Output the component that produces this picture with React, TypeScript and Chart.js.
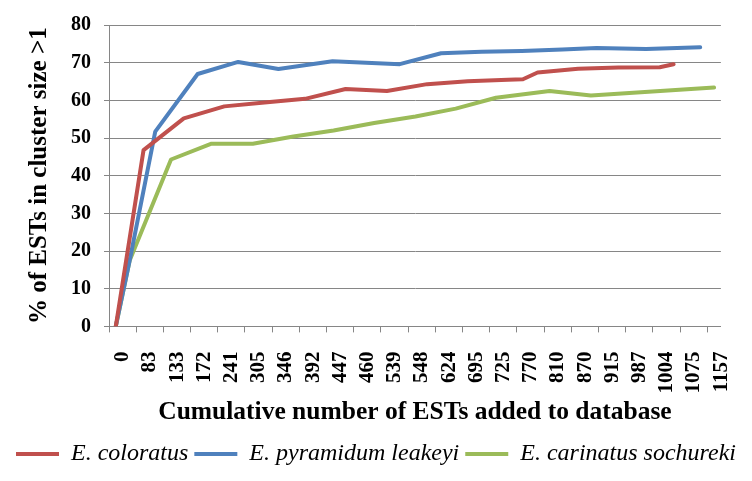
import { useEffect, useRef } from "react"
import { Chart, registerables, type ChartConfiguration } from "chart.js"

Chart.register(...registerables)

// category labels (cumulative number of ESTs)
const xLabels = [
  "0", "83", "133", "172", "241", "305", "346", "392", "447", "460", "539", "548",
  "624", "695", "725", "770", "810", "870", "915", "987", "1004", "1075", "1157",
]

// x positions are in category-index units
const redX = [-0.25, 0.77, 2.25, 3.74, 5.22, 6.71, 8.2, 9.72, 11.2, 12.69, 14.17, 14.72, 15.26, 16.75, 18.23, 19.75, 20.26]
const redY = [0, 46.8, 55.2, 58.4, 59.4, 60.4, 63.0, 62.5, 64.3, 65.1, 65.5, 65.6, 67.4, 68.4, 68.7, 68.8, 69.6]

const blueX = [-0.25, 0.26, 1.2, 2.76, 4.25, 5.73, 7.72, 10.19, 11.71, 13.2, 14.68, 16.17, 17.43, 19.25, 21.24]
const blueY = [0, 17.5, 51.7, 67.0, 70.2, 68.3, 70.4, 69.6, 72.5, 72.9, 73.1, 73.5, 73.9, 73.6, 74.1]

const greenX = [-0.25, 0.26, 1.78, 3.27, 4.79, 6.28, 7.76, 9.25, 10.77, 12.25, 13.73, 15.7, 17.22, 21.75]
const greenY = [0, 17.5, 44.3, 48.5, 48.5, 50.4, 52.0, 54.0, 55.7, 57.8, 60.7, 62.5, 61.3, 63.4]

const seriesNames = ["E. coloratus", "E. pyramidum leakeyi", "E. carinatus sochureki"]
const seriesColors = ["#C0504D", "#4F81BD", "#9BBB59"]

const yTicks = [0, 10, 20, 30, 40, 50, 60, 70, 80]

const zip = (xs: number[], ys: number[]) => xs.map((x, i) => ({ x, y: ys[i] }))

export default function App() {
  const chartRef = useRef<HTMLCanvasElement>(null)
  const chartInstance = useRef<Chart | null>(null)

  useEffect(() => {
    document.body.style.margin = "0"
    if (!chartRef.current) return
    if (chartInstance.current) chartInstance.current.destroy()
    const ctx = chartRef.current.getContext("2d")
    if (!ctx) return

    Chart.defaults.font.family = "'Liberation Serif', 'Times New Roman', serif"
    Chart.defaults.color = "#000"

    const grey = "#868686"
    const series = [zip(redX, redY), zip(blueX, blueY), zip(greenX, greenY)]

    const config: ChartConfiguration<"line"> = {
      type: "line",
      data: {
        datasets: series.map((d, i) => ({
          label: seriesNames[i],
          data: d,
          borderColor: seriesColors[i],
          backgroundColor: seriesColors[i],
          borderWidth: 4,
          borderCapStyle: "round" as const,
          borderJoinStyle: "round" as const,
          pointRadius: 0,
          tension: 0,
        })),
      },
      options: {
        animation: false,
        responsive: true,
        maintainAspectRatio: false,
        // no left/right padding so the legend gets the full width
        layout: { padding: { top: 9, left: 0, right: 0, bottom: 5 } },
        scales: {
          x: {
            type: "linear",
            min: -0.5,
            max: 22,
            afterBuildTicks: (scale) => {
              scale.ticks = xLabels.map((_, i) => ({ value: i - 0.5 }))
            },
            grid: { drawOnChartArea: false, color: grey, tickLength: 6 },
            border: { color: grey },
            ticks: {
              autoSkip: false,
              minRotation: 90,
              maxRotation: 90,
              labelOffset: 13.8,
              padding: 19,
              font: { size: 21, weight: "bold" },
              callback: (value) => xLabels[Math.round(Number(value) + 0.5)],
            },
            title: {
              display: true,
              text: "Cumulative number of ESTs added to database",
              font: { size: 25.5, weight: "bold" },
              padding: { top: -15, bottom: 8 },
            },
          },
          y: {
            min: 0,
            max: 80,
            afterBuildTicks: (scale) => {
              scale.ticks = yTicks.map((v) => ({ value: v }))
            },
            grid: { color: grey, tickLength: 5 },
            border: { color: grey },
            ticks: { padding: 13, font: { size: 20, weight: "bold" } },
            title: {
              display: true,
              text: "% of ESTs in cluster size >1",
              font: { size: 25, weight: "bold" },
              padding: { top: 25, bottom: 3 },
            },
          },
          // empty axis on the right, only to keep space
          yRight: {
            position: "right",
            display: true,
            grid: { display: false },
            border: { display: false },
            ticks: { display: false },
            afterFit: (scale) => {
              scale.width = 23
            },
          },
        },
        plugins: {
          legend: {
            position: "bottom",
            labels: {
              usePointStyle: true,
              pointStyle: "line",
              pointStyleWidth: 43,
              padding: 6,
              font: { size: 24, style: "italic" },
            },
          },
          tooltip: { enabled: false },
        },
      },
    }

    chartInstance.current = new Chart(ctx, config)

    return () => {
      if (chartInstance.current) {
        chartInstance.current.destroy()
        chartInstance.current = null
      }
    }
  }, [])

  return (
    <div style={{ width: 752, height: 481, position: "relative", background: "#fff" }}>
      <canvas ref={chartRef}></canvas>
    </div>
  )
}
